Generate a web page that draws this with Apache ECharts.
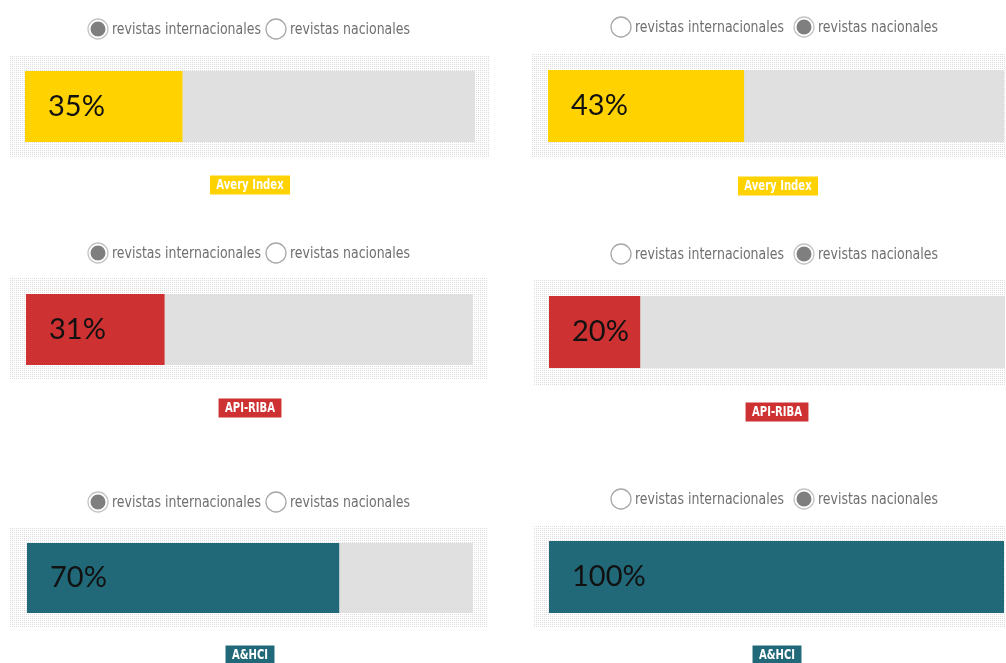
<!DOCTYPE html>
<html>
<head>
<meta charset="utf-8">
<script src="https://cdn.jsdelivr.net/npm/echarts@6/dist/echarts.min.js"></script>
<style>
  html, body { margin: 0; padding: 0; background: #fff; }
  #chart { width: 1006px; height: 663px; }
</style>
</head>
<body>
<div id="chart"></div>
<script>
// data
const indices = ['Avery Index', 'API-RIBA', 'A&HCI'];
const internacionales = [35, 31, 70];
const nacionales = [43, 20, 100];
const radioLabels = ['revistas internacionales', 'revistas nacionales'];
const colors = ['#ffd200', '#ce3131', '#216878'];

// layout of the six panels (left column = internacionales, right = nacionales)
const panels = [
  { track: [25, 71, 450, 71],  bg: [10, 55, 480, 103],  radioY: 29,  badgeX: 250, badgeY: 185, col: 0 },
  { track: [548, 70, 456, 72], bg: [532, 53, 474, 104], radioY: 27,  badgeX: 778, badgeY: 186, col: 1 },
  { track: [26, 294, 447, 71], bg: [10, 278, 478, 102], radioY: 253, badgeX: 250, badgeY: 408, col: 0 },
  { track: [549, 296, 456, 72], bg: [533, 280, 473, 105], radioY: 254, badgeX: 777, badgeY: 412, col: 1 },
  { track: [27, 543, 446, 70], bg: [10, 528, 477, 100], radioY: 502, badgeX: 250, badgeY: 655, col: 0 },
  { track: [549, 541, 455, 72], bg: [533, 525, 473, 103], radioY: 499, badgeX: 777, badgeY: 655, col: 1 }
];
const radioX = [[98, 276], [621, 804]];

// dotted pattern for the panel background
const dots = document.createElement('canvas');
dots.width = 2; dots.height = 2;
const dctx = dots.getContext('2d');
dctx.fillStyle = '#fff';
dctx.fillRect(0, 0, 2, 2);
dctx.fillStyle = '#dcdcdc';
dctx.fillRect(0, 0, 1, 1);

const chart = echarts.init(document.getElementById('chart'));

const grids = [], xAxes = [], yAxes = [], series = [], graphics = [];

panels.forEach((p, i) => {
  const row = Math.floor(i / 2);
  const value = p.col === 0 ? internacionales[row] : nacionales[row];
  const [l, t, w, h] = p.track;
  grids.push({ left: l, top: t, width: w, height: h });
  xAxes.push({ type: 'value', gridIndex: i, min: 0, max: 100, show: false });
  yAxes.push({ type: 'category', gridIndex: i, data: [indices[row]], show: false });
  series.push({
    type: 'bar',
    xAxisIndex: i,
    yAxisIndex: i,
    data: [value],
    barWidth: '100%',
    showBackground: true,
    backgroundStyle: { color: '#e0e0e0' },
    itemStyle: { color: colors[row] },
    label: {
      show: true,
      position: 'insideLeft',
      distance: 23,
      formatter: '{c}%',
      fontFamily: 'Lato',
      fontSize: 29,
      color: '#111'
    },
    silent: true,
    animation: false
  });

  // dotted backdrop
  graphics.push({
    type: 'rect',
    z: -10,
    shape: { x: p.bg[0], y: p.bg[1], width: p.bg[2], height: p.bg[3] },
    style: { fill: { image: dots, repeat: 'repeat' } },
    silent: true
  });

  // radio buttons
  radioLabels.forEach((txt, k) => {
    const cx = radioX[p.col][k];
    const on = k === p.col;
    graphics.push({
      type: 'circle',
      shape: { cx: cx, cy: p.radioY, r: 10 },
      style: { fill: '#fff', stroke: on ? '#c4c4c4' : '#a8a8a8', lineWidth: 1.3 }
    });
    if (on) {
      graphics.push({
        type: 'circle',
        shape: { cx: cx, cy: p.radioY, r: 7.5 },
        style: { fill: '#7f7f7f' }
      });
    }
    graphics.push({
      type: 'text',
      x: cx + 14,
      y: p.radioY + 1,
      scaleX: 0.87,
      style: {
        text: txt,
        fill: '#6f6f6f',
        font: '16px "Liberation Sans Narrow", "DejaVu Sans Condensed", sans-serif',
        verticalAlign: 'middle'
      }
    });
  });

  // index badge
  graphics.push({
    type: 'text',
    x: p.badgeX,
    y: p.badgeY,
    scaleX: 0.8,
    style: {
      text: indices[row],
      fill: '#fff',
      font: 'bold 14px "Liberation Sans Narrow", "DejaVu Sans Condensed", sans-serif',
      align: 'center',
      verticalAlign: 'middle',
      backgroundColor: colors[row],
      padding: [3, 8, 2, 8]
    }
  });
});

chart.setOption({
  backgroundColor: '#fff',
  animation: false,
  grid: grids,
  xAxis: xAxes,
  yAxis: yAxes,
  series: series,
  graphic: graphics
});
</script>
</body>
</html>
